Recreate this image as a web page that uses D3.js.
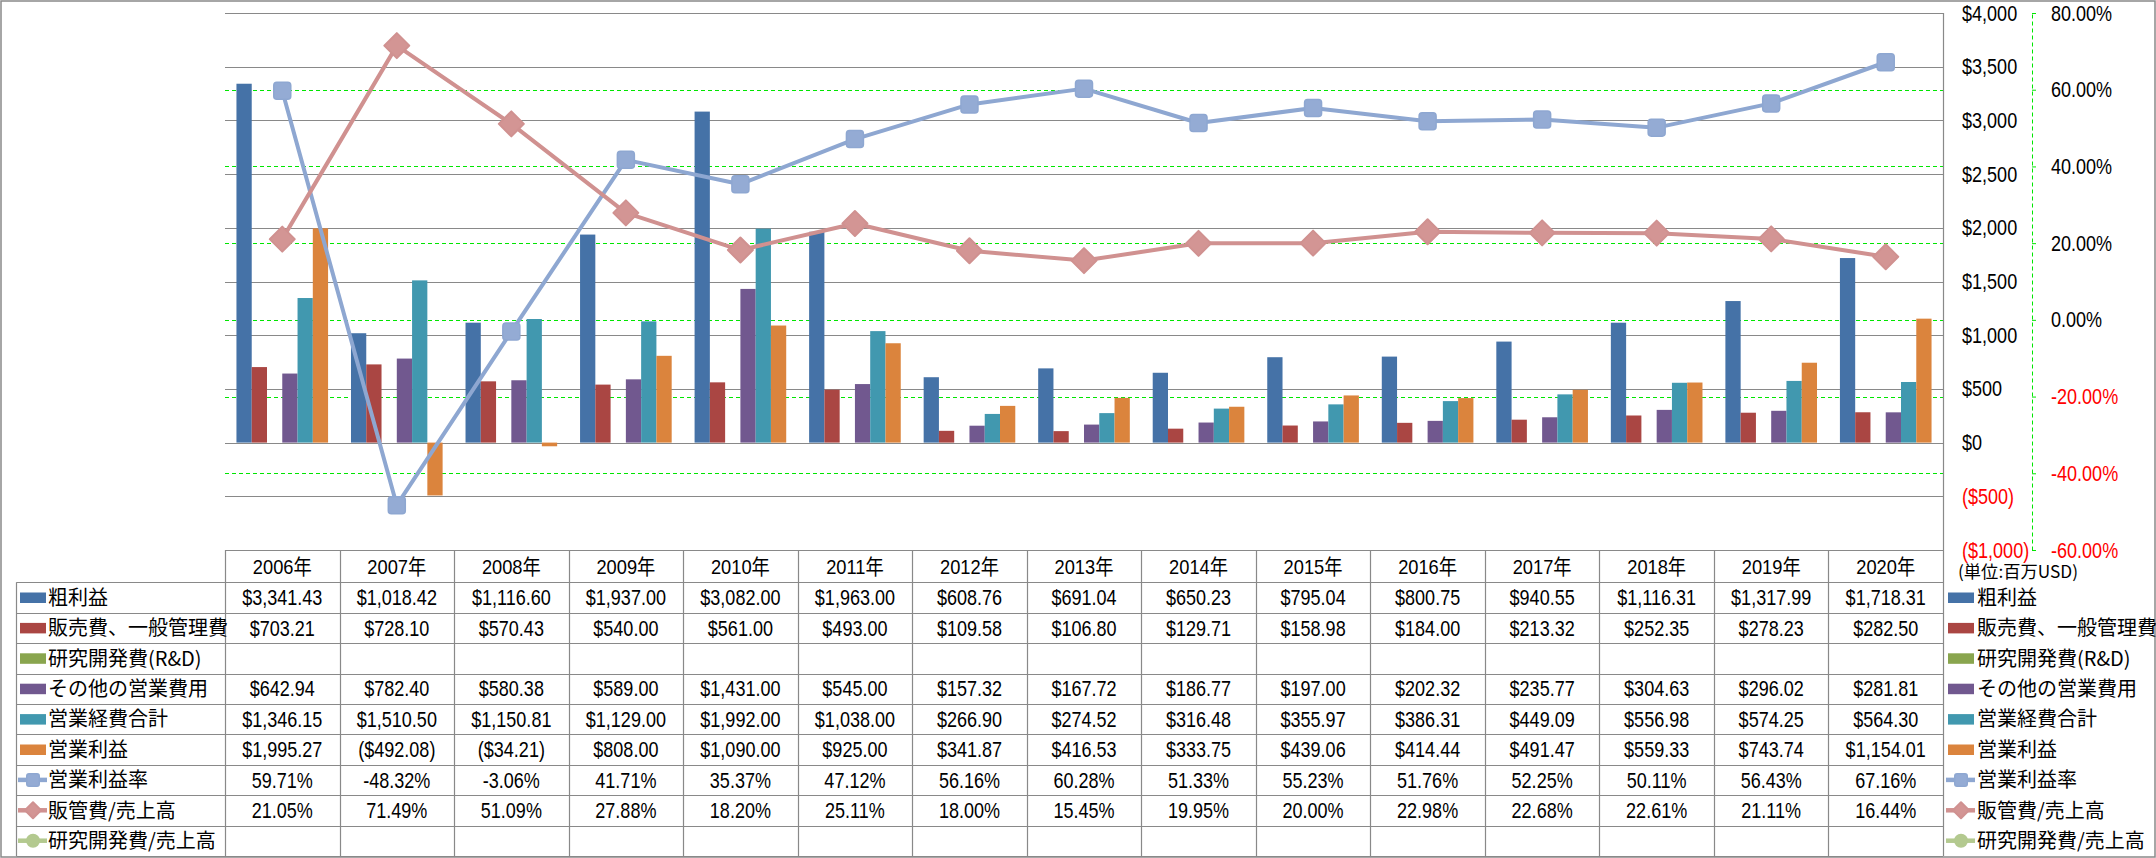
<!DOCTYPE html>
<html>
<head>
<meta charset="utf-8">
<script src="https://cdn.jsdelivr.net/npm/d3@7/dist/d3.min.js"></script>
<style>
    body { margin: 0; background: #fff; }
</style>
</head>
<body>
<svg id="chart" width="2156" height="858"></svg>
<script>
// --- data (百万USD) ---
const years = ["2006年", "2007年", "2008年", "2009年", "2010年", "2011年", "2012年", "2013年",
    "2014年", "2015年", "2016年", "2017年", "2018年", "2019年", "2020年"];
const grossProfit = [3341.43, 1018.42, 1116.60, 1937.00, 3082.00, 1963.00, 608.76, 691.04,
    650.23, 795.04, 800.75, 940.55, 1116.31, 1317.99, 1718.31];
const sgaExpense = [703.21, 728.10, 570.43, 540.00, 561.00, 493.00, 109.58, 106.80,
    129.71, 158.98, 184.00, 213.32, 252.35, 278.23, 282.50];
const rndExpense = [null, null, null, null, null, null, null, null,
    null, null, null, null, null, null, null];
const otherExpense = [642.94, 782.40, 580.38, 589.00, 1431.00, 545.00, 157.32, 167.72,
    186.77, 197.00, 202.32, 235.77, 304.63, 296.02, 281.81];
const totalOpex = [1346.15, 1510.50, 1150.81, 1129.00, 1992.00, 1038.00, 266.90, 274.52,
    316.48, 355.97, 386.31, 449.09, 556.98, 574.25, 564.30];
const operatingIncome = [1995.27, -492.08, -34.21, 808.00, 1090.00, 925.00, 341.87, 416.53,
    333.75, 439.06, 414.44, 491.47, 559.33, 743.74, 1154.01];
const operatingMargin = [59.71, -48.32, -3.06, 41.71, 35.37, 47.12, 56.16, 60.28,
    51.33, 55.23, 51.76, 52.25, 50.11, 56.43, 67.16];
const sgaRatio = [21.05, 71.49, 51.09, 27.88, 18.20, 25.11, 18.00, 15.45,
    19.95, 20.00, 22.98, 22.68, 22.61, 21.11, 16.44];
const rndRatio = [null, null, null, null, null, null, null, null,
    null, null, null, null, null, null, null];

const dollarTicks = [-1000, -500, 0, 500, 1000, 1500, 2000, 2500, 3000, 3500, 4000];
const percentTicks = [-60, -40, -20, 0, 20, 40, 60, 80];
const unitLabel = "(単位:百万USD)";

const barSeries = [
    {name: "粗利益", values: grossProfit, color: "#4572A7"},
    {name: "販売費、一般管理費", values: sgaExpense, color: "#AA4643"},
    {name: "研究開発費(R&D)", values: rndExpense, color: "#89A54E"},
    {name: "その他の営業費用", values: otherExpense, color: "#71588F"},
    {name: "営業経費合計", values: totalOpex, color: "#4198AF"},
    {name: "営業利益", values: operatingIncome, color: "#DB843D"}
];
const lineSeries = [
    {name: "営業利益率", values: operatingMargin, color: "#8EA7D1", fill: "#94ABD4", shape: "square"},
    {name: "販管費/売上高", values: sgaRatio, color: "#D09190", fill: "#D39594", shape: "diamond"},
    {name: "研究開発費/売上高", values: rndRatio, color: "#B3C98F", fill: "#B3C98F", shape: "circle"}
];

// --- layout ---
const NUM_FONT = '"Liberation Sans", "Noto Sans CJK JP", sans-serif';
const JP_FONT = '"Noto Sans CJK JP", sans-serif';
const SQUEEZE = 0.82;   // narrow look of the original digits
const GRID = "#898989";
const plot = {left: 225, right: 1943, top: 13, bottom: 550};
const table = {left: 16.5, headerTop: 550, rowTop: 582.3, rowH: 30.4};

const svg = d3.select("#chart");

const x0 = d3.scaleBand().domain(years).range([plot.left, plot.right]).padding(0);
const x1 = d3.scaleBand().domain(barSeries.map(function (s) { return s.name; }))
    .range([0, x0.bandwidth()]).paddingInner(0).paddingOuter(0.75);
const yL = d3.scaleLinear().domain([-1000, 4000]).range([plot.bottom, plot.top]);
const yR = d3.scaleLinear().domain([-60, 80]).range([plot.bottom, plot.top]);

function fmtMoney(v) {
    if (v == null) return "";
    const s = "$" + d3.format(",.2f")(Math.abs(v));
    return v < 0 ? "(" + s + ")" : s;
}
function fmtPct(v) {
    if (v == null) return "";
    return v.toFixed(2) + "%";
}

// text squeezed horizontally around its anchor point
function narrowText(g, x, y, str, size, anchor, sx) {
    return g.append("text")
        .attr("transform", "translate(" + x + "," + y + ") scale(" + sx + ",1)")
        .attr("dy", "0.35em")
        .attr("text-anchor", anchor)
        .attr("font-family", NUM_FONT).attr("font-size", size)
        .text(str);
}

function drawMarker(g, shape, cx, cy, size, fill, stroke) {
    const h = size / 2;
    if (shape === "square") {
        g.append("rect")
            .attr("x", cx - h).attr("y", cy - h)
            .attr("width", size).attr("height", size)
            .attr("rx", size * 0.18)
            .attr("fill", fill).attr("stroke", stroke).attr("stroke-width", 1.5);
    } else if (shape === "diamond") {
        g.append("path")
            .attr("d", "M" + cx + "," + (cy - h) + "L" + (cx + h) + "," + cy +
                "L" + cx + "," + (cy + h) + "L" + (cx - h) + "," + cy + "Z")
            .attr("fill", fill).attr("stroke", stroke).attr("stroke-width", 2)
            .attr("stroke-linejoin", "round");
    } else {
        g.append("circle")
            .attr("cx", cx).attr("cy", cy).attr("r", h)
            .attr("fill", fill).attr("stroke", stroke).attr("stroke-width", 1.5);
    }
}

// outer frame
svg.append("rect")
    .attr("x", 1).attr("y", 1).attr("width", 2154).attr("height", 856)
    .attr("fill", "#fff").attr("stroke", GRID).attr("stroke-width", 1.5);

// gridlines ($ axis)
svg.append("g").attr("class", "grid")
    .selectAll("line").data(dollarTicks.filter(function (t) { return t > -1000; }))
    .enter().append("line")
    .attr("x1", plot.left).attr("x2", plot.right)
    .attr("y1", function (d) { return Math.round(yL(d)) + 0.5; })
    .attr("y2", function (d) { return Math.round(yL(d)) + 0.5; })
    .attr("stroke", GRID).attr("stroke-width", 1.2);

// green dashed lines (% axis)
svg.append("g").attr("class", "pct-grid")
    .selectAll("line").data(percentTicks.filter(function (t) { return t > -60 && t < 80; }))
    .enter().append("line")
    .attr("x1", plot.left).attr("x2", plot.right)
    .attr("y1", function (d) { return Math.round(yR(d)) + 0.5; })
    .attr("y2", function (d) { return Math.round(yR(d)) + 0.5; })
    .attr("stroke", "#00E600").attr("stroke-width", 1)
    .attr("stroke-dasharray", "4,3");

// bars
const barG = svg.append("g").attr("class", "bars");
barSeries.forEach(function (s) {
    barG.append("g")
        .selectAll("rect")
        .data(s.values.map(function (v, i) { return {v: v, year: years[i]}; })
            .filter(function (d) { return d.v != null; }))
        .enter().append("rect")
        .attr("x", function (d) { return x0(d.year) + x1(s.name); })
        .attr("width", x1.bandwidth())
        .attr("y", function (d) { return Math.min(yL(d.v), yL(0)); })
        .attr("height", function (d) { return Math.abs(yL(d.v) - yL(0)); })
        .attr("fill", s.color);
});

// lines with markers
const line = d3.line()
    .defined(function (d) { return d != null; })
    .x(function (d, i) { return x0(years[i]) + x0.bandwidth() / 2; })
    .y(function (d) { return yR(d); });

lineSeries.forEach(function (s) {
    const g = svg.append("g").attr("class", "line-series");
    g.append("path")
        .attr("d", line(s.values))
        .attr("fill", "none")
        .attr("stroke", s.color).attr("stroke-width", 4)
        .attr("stroke-linejoin", "round");
    s.values.forEach(function (v, i) {
        if (v == null) return;
        drawMarker(g, s.shape, x0(years[i]) + x0.bandwidth() / 2, yR(v),
            s.shape === "diamond" ? 25 : 17, s.fill, s.color);
    });
});

// plot right border
svg.append("line")
    .attr("x1", plot.right + 0.5).attr("x2", plot.right + 0.5)
    .attr("y1", plot.top).attr("y2", table.rowTop + table.rowH * 9)
    .attr("stroke", GRID).attr("stroke-width", 1.2);

// $ axis (labels only, right side)
const axisL = svg.append("g")
    .attr("transform", "translate(1962,0)")
    .call(d3.axisRight(yL).tickValues(dollarTicks).tickSize(0).tickPadding(0)
        .tickFormat(function (d) {
            return d < 0 ? "($" + d3.format(",")(-d) + ")" : "$" + d3.format(",")(d);
        }));
axisL.select(".domain").remove();
axisL.attr("font-family", NUM_FONT).attr("font-size", 22);
axisL.selectAll("text")
    .attr("x", 0)
    .attr("transform", "scale(" + SQUEEZE + ",1)")
    .attr("fill", function (d) { return d < 0 ? "#FF0000" : "#000"; });

// % axis
const axisR = svg.append("g")
    .attr("transform", "translate(2032,0)")
    .call(d3.axisRight(yR).tickValues(percentTicks).tickSizeInner(4).tickSizeOuter(0)
        .tickPadding(15)
        .tickFormat(function (d) { return d.toFixed(2) + "%"; }));
axisR.select(".domain")
    .attr("stroke", "#00E600").attr("stroke-dasharray", "4,3");
axisR.selectAll(".tick line").attr("stroke", "#00E600");
axisR.attr("font-family", NUM_FONT).attr("font-size", 22);
axisR.selectAll("text")
    .attr("x", 19 / SQUEEZE)
    .attr("transform", "scale(" + SQUEEZE + ",1)")
    .attr("fill", function (d) { return d < 0 ? "#FF0000" : "#000"; });

// unit label
svg.append("text")
    .attr("x", 1958).attr("y", 572).attr("dy", "0.35em")
    .attr("font-family", JP_FONT).attr("font-size", 17)
    .attr("textLength", 120).attr("lengthAdjust", "spacingAndGlyphs")
    .text(unitLabel);

// --- data table ---
const rows = barSeries.map(function (s) {
    return {name: s.name, values: s.values, color: s.color, kind: "bar", fmt: fmtMoney};
}).concat(lineSeries.map(function (s) {
    return {name: s.name, values: s.values, color: s.color, fill: s.fill, shape: s.shape,
        kind: "line", fmt: fmtPct};
}));
const tableBottom = table.rowTop + table.rowH * rows.length;
const tG = svg.append("g").attr("class", "table");

// header row
tG.append("line")
    .attr("x1", plot.left).attr("x2", plot.right)
    .attr("y1", table.headerTop + 0.5).attr("y2", table.headerTop + 0.5)
    .attr("stroke", GRID).attr("stroke-width", 1.2);
years.forEach(function (y) {
    narrowText(tG, x0(y) + x0.bandwidth() / 2, (table.headerTop + table.rowTop) / 2,
        y, 21, "middle", 0.87);
});

// horizontal row lines
d3.range(rows.length + 1).forEach(function (i) {
    const yy = Math.round(table.rowTop + table.rowH * i) + 0.5;
    tG.append("line")
        .attr("x1", table.left).attr("x2", plot.right)
        .attr("y1", yy).attr("y2", yy)
        .attr("stroke", GRID).attr("stroke-width", 1.2);
});
// vertical lines
tG.append("line")
    .attr("x1", table.left).attr("x2", table.left)
    .attr("y1", table.rowTop).attr("y2", tableBottom)
    .attr("stroke", GRID).attr("stroke-width", 1.2);
years.forEach(function (y) {
    tG.append("line")
        .attr("x1", Math.round(x0(y)) + 0.5).attr("x2", Math.round(x0(y)) + 0.5)
        .attr("y1", table.headerTop).attr("y2", tableBottom)
        .attr("stroke", GRID).attr("stroke-width", 1.2);
});

function drawLegendKey(g, r, x, cy) {
    if (r.kind === "bar") {
        g.append("rect")
            .attr("x", x).attr("y", cy - 5).attr("width", 26).attr("height", 10.5)
            .attr("fill", r.color);
    } else {
        g.append("line")
            .attr("x1", x - 2).attr("x2", x + 27).attr("y1", cy).attr("y2", cy)
            .attr("stroke", r.color).attr("stroke-width", 4.5);
        drawMarker(g, r.shape, x + 13, cy, r.shape === "diamond" ? 16 : 12.5, r.fill, r.color);
    }
}

rows.forEach(function (r, i) {
    const cy = table.rowTop + table.rowH * i + table.rowH / 2;
    // left legend cell
    drawLegendKey(tG, r, 20, cy);
    tG.append("text")
        .attr("x", 48).attr("y", cy).attr("dy", "0.36em")
        .attr("font-family", JP_FONT).attr("font-size", 20)
        .text(r.name);
    // values
    r.values.forEach(function (v, j) {
        if (v == null) return;
        narrowText(tG, x0(years[j]) + x0.bandwidth() / 2, cy, r.fmt(v), 22, "middle", SQUEEZE);
    });
    // right legend
    drawLegendKey(tG, r, 1948, cy);
    tG.append("text")
        .attr("x", 1977).attr("y", cy).attr("dy", "0.36em")
        .attr("font-family", JP_FONT).attr("font-size", 20)
        .text(r.name);
});
</script>
</body>
</html>
